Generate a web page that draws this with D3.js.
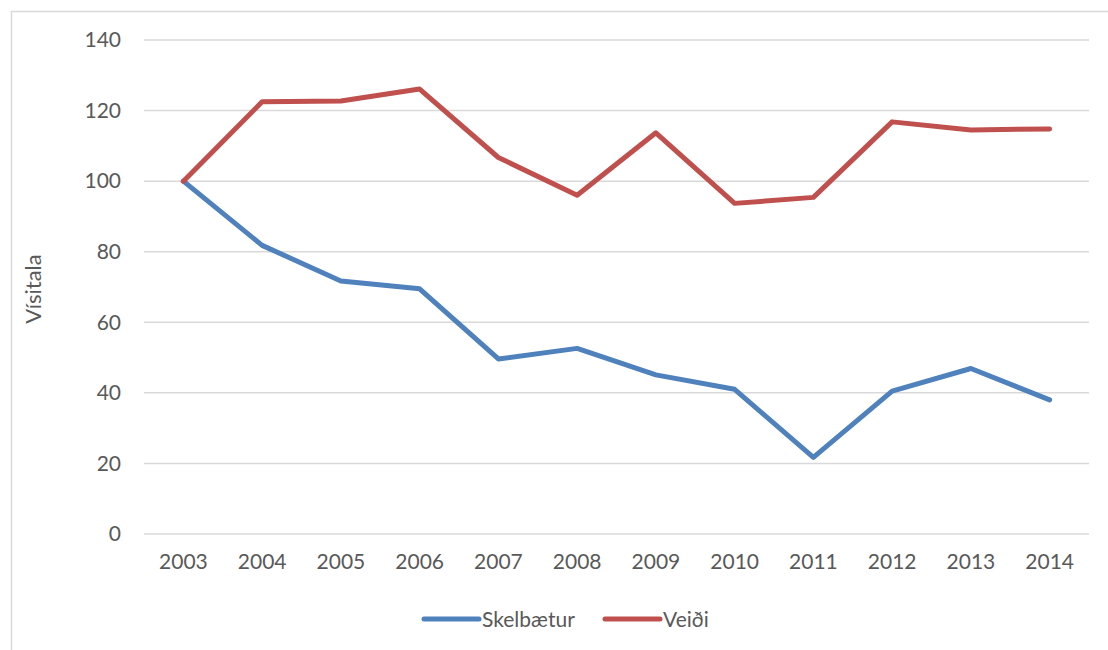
<!DOCTYPE html>
<html><head><meta charset="utf-8">
<script src="https://cdn.jsdelivr.net/npm/d3@7"></script>
<style>body{margin:0;background:#fff;} text{font-family:Lato,"Open Sans",sans-serif;fill:#595959;}</style>
</head><body>
<svg id="c" width="1108" height="650"></svg>
<script>
(function(){
const years = ["2003","2004","2005","2006","2007","2008","2009","2010","2011","2012","2013","2014"];
const skelbaetur = [100,81.8,71.7,69.5,49.6,52.6,45.1,41.0,21.7,40.5,46.9,38.0];
const veidi = [100,122.5,122.7,126.1,106.7,96.0,113.7,93.7,95.4,116.8,114.5,114.8];
const yTicks = [0,20,40,60,80,100,120,140];
const seriesNames = ["Skelbætur","Veiði"];
const colors = ["#4F81BD","#C0504D"];

const svg = d3.select("#c");
svg.append("rect").attr("x",11.5).attr("y",11.5).attr("width",1120).attr("height",660)
  .attr("fill","none").attr("stroke","#D9D9D9").attr("stroke-width",1.5);

const pL=144, pR=1089, pT=40, pB=534;
const x = d3.scaleBand().domain(years).range([pL,pR]);
const y = d3.scaleLinear().domain([0,140]).range([pB,pT]);

const grid = svg.append("g");
grid.selectAll("line").data(yTicks).join("line")
  .attr("x1",pL).attr("x2",pR).attr("y1",d=>y(d)).attr("y2",d=>y(d))
  .attr("stroke","#D9D9D9").attr("stroke-width",1.5);

const yAxis = svg.append("g").attr("transform",`translate(${pL},0)`)
  .call(d3.axisLeft(y).tickValues(yTicks).tickSize(0).tickPadding(23));
yAxis.select(".domain").remove();
yAxis.selectAll("text").style("font-size","21px").attr("fill","#595959").style("font-family","Lato, 'Open Sans', sans-serif");

const xAxis = svg.append("g").attr("transform",`translate(0,${pB})`)
  .call(d3.axisBottom(x).tickSize(0).tickPadding(20));
xAxis.select(".domain").remove();
xAxis.selectAll("text").style("font-size","21px").attr("fill","#595959").style("font-family","Lato, 'Open Sans', sans-serif");

svg.append("text").attr("transform","translate(41,289) rotate(-90)").attr("text-anchor","middle")
  .style("font-size","22px").text("Vísitala");

const line = d3.line().x((d,i)=>x(years[i])+x.bandwidth()/2).y(d=>y(d));
[skelbaetur,veidi].forEach((s,k)=>{
  svg.append("path").datum(s).attr("d",line).attr("fill","none")
    .attr("stroke",colors[k]).attr("stroke-width",5).attr("stroke-linejoin","round").attr("stroke-linecap","round");
});

const legX=[424,605];
seriesNames.forEach((n,k)=>{
  svg.append("line").attr("x1",legX[k]).attr("x2",legX[k]+55).attr("y1",619).attr("y2",619)
    .attr("stroke",colors[k]).attr("stroke-width",5).attr("stroke-linecap","round");
  svg.append("text").attr("x",legX[k]+58).attr("y",627).style("font-size","21px").text(n);
});
})();
</script>
</body></html>
